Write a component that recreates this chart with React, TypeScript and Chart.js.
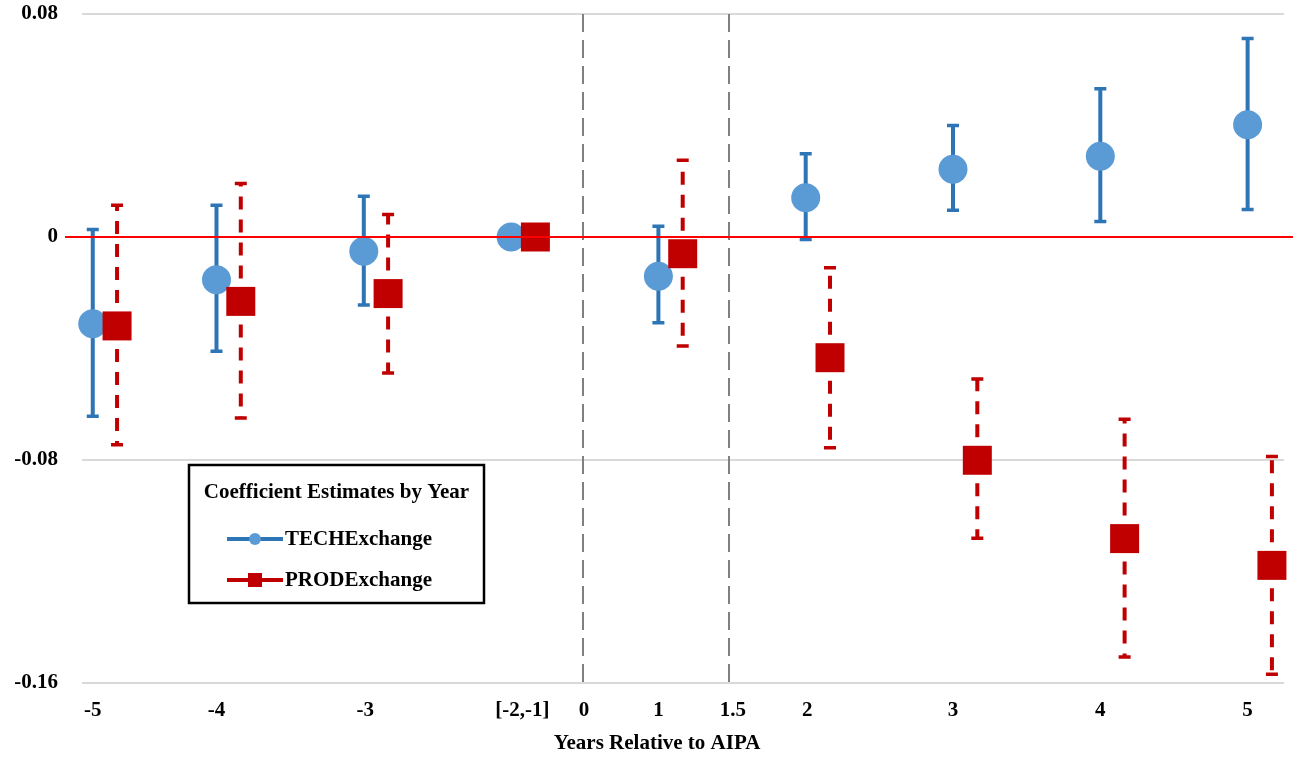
import React, { useEffect, useRef } from 'react';
import { Chart, registerables } from 'chart.js';

Chart.register(...registerables);

// ---- data ----
const categories = ['-5', '-4', '-3', '[-2,-1]', '1', '2', '3', '4', '5'];
const xPositions = [-2.84, -2, -1, 0, 1, 2, 3, 4, 5];
const prodOffset = 0.165;

const techEstimate = [-0.0311, -0.0153, -0.0051, 0, -0.0141, 0.0141, 0.0243, 0.029, 0.0403];
const techLower = [-0.0643, -0.041, -0.0244, null, -0.0308, -0.0009, 0.0096, 0.0056, 0.0099];
const techUpper = [0.0027, 0.0114, 0.0146, null, 0.0039, 0.0299, 0.04, 0.0532, 0.0712];

const prodEstimate = [-0.0319, -0.0231, -0.0203, 0, -0.006, -0.0433, -0.0801, -0.1082, -0.1178];
const prodLower = [-0.0745, -0.0649, -0.0488, null, -0.0391, -0.0756, -0.1081, -0.1507, -0.1569];
const prodUpper = [0.0114, 0.0192, 0.0081, null, 0.0275, -0.011, -0.0509, -0.0654, -0.0787];

const xTickValues = [-2.84, -2, -0.99, 0.077, 0.495, 1, 1.505, 2.01, 3, 4, 5];
const xTickLabels = ['-5', '-4', '-3', '[-2,-1]', '0', '1', '1.5', '2', '3', '4', '5'];
const yTickValues = [-0.16, -0.08, 0, 0.08];
const referenceLines = [0.49, 1.48];

const legendTitle = 'Coefficient Estimates by Year';
const xAxisTitle = 'Years Relative to AIPA';

const FONT = "'Liberation Serif', 'Times New Roman', serif";
const TECH_FILL = '#5B9BD5';
const TECH_BAR = '#2E75B6';
const PROD_COLOR = '#C00000';

const errorBarPlugin = {
  id: 'errorBars',
  beforeDatasetsDraw(chart: any) {
    const { ctx, chartArea } = chart;
    const x = chart.scales.x;
    const y = chart.scales.y;
    ctx.save();
    ctx.strokeStyle = '#808080';
    ctx.lineWidth = 2;
    ctx.setLineDash([18, 8]);
    referenceLines.forEach((v) => {
      const px = Math.round(x.getPixelForValue(v));
      ctx.beginPath();
      ctx.moveTo(px, chartArea.top);
      ctx.lineTo(px, chartArea.bottom);
      ctx.stroke();
    });
    ctx.restore();

    chart.data.datasets.forEach((ds: any) => {
      ctx.save();
      ctx.strokeStyle = ds.errColor;
      ds.data.forEach((p: any, i: number) => {
        const lo = ds.errLower[i];
        const hi = ds.errUpper[i];
        if (lo == null || hi == null) return;
        const px = x.getPixelForValue(p.x);
        const pc = y.getPixelForValue(p.y);
        const pl = y.getPixelForValue(lo);
        const ph = y.getPixelForValue(hi);
        ctx.lineWidth = 4;
        ctx.setLineDash(ds.errDash);
        ctx.beginPath();
        ctx.moveTo(px, pc);
        ctx.lineTo(px, ph);
        ctx.stroke();
        ctx.beginPath();
        ctx.moveTo(px, pc);
        ctx.lineTo(px, pl);
        ctx.stroke();
        ctx.setLineDash([]);
        ctx.lineWidth = 3.5;
        ctx.beginPath();
        ctx.moveTo(px - 6, ph);
        ctx.lineTo(px + 6, ph);
        ctx.moveTo(px - 6, pl);
        ctx.lineTo(px + 6, pl);
        ctx.stroke();
      });
      ctx.restore();
    });
  },
  afterDatasetsDraw(chart: any) {
    const { ctx, chartArea } = chart;
    const y = chart.scales.y;
    const py = y.getPixelForValue(0);
    ctx.save();
    ctx.strokeStyle = '#FF0000';
    ctx.lineWidth = 2;
    ctx.beginPath();
    ctx.moveTo(chartArea.left - 17, py);
    ctx.lineTo(chartArea.right + 9, py);
    ctx.stroke();
    ctx.restore();
  },
  afterDraw(chart: any) {
    const { ctx, chartArea } = chart;
    ctx.save();
    // x axis title
    ctx.fillStyle = '#000';
    ctx.font = `bold 21px ${FONT}`;
    ctx.textAlign = 'center';
    ctx.textBaseline = 'middle';
    ctx.fillText(xAxisTitle, chartArea.left + 575, 744);

    // legend box
    const bx = chartArea.left + 107;
    const by = chartArea.top + 451;
    const bw = 295;
    const bh = 138;
    ctx.fillStyle = '#FFFFFF';
    ctx.fillRect(bx, by, bw, bh);
    ctx.strokeStyle = '#000';
    ctx.lineWidth = 2.5;
    ctx.strokeRect(bx, by, bw, bh);

    ctx.fillStyle = '#000';
    ctx.font = `bold 21px ${FONT}`;
    ctx.textAlign = 'center';
    ctx.fillText(legendTitle, bx + bw / 2, by + 28);

    chart.data.datasets.forEach((ds: any, i: number) => {
      const ly = by + 74 + i * 41;
      const lx0 = bx + 38;
      const lx1 = bx + 94;
      ctx.strokeStyle = ds.errColor;
      ctx.lineWidth = 4;
      ctx.setLineDash([]);
      ctx.beginPath();
      ctx.moveTo(lx0, ly);
      ctx.lineTo(lx1, ly);
      ctx.stroke();
      ctx.fillStyle = ds.backgroundColor;
      const cx = (lx0 + lx1) / 2;
      if (ds.pointStyle === 'circle') {
        ctx.beginPath();
        ctx.arc(cx, ly, 6, 0, Math.PI * 2);
        ctx.fill();
      } else {
        ctx.fillRect(cx - 7, ly - 7, 14, 14);
      }
      ctx.fillStyle = '#000';
      ctx.font = `bold 21px ${FONT}`;
      ctx.textAlign = 'left';
      ctx.fillText(ds.label, lx1 + 2, ly + 1);
    });
    ctx.restore();
  },
};

export default function App() {
  const canvasRef = useRef<HTMLCanvasElement | null>(null);

  useEffect(() => {
    if (!canvasRef.current) return;
    const techData = xPositions.map((x, i) => ({ x, y: techEstimate[i] }));
    const prodData = xPositions.map((x, i) => ({ x: x + prodOffset, y: prodEstimate[i] }));

    const chart = new Chart(canvasRef.current, {
      type: 'scatter',
      data: {
        labels: categories,
        datasets: [
          {
            label: 'TECHExchange',
            data: techData,
            pointStyle: 'circle',
            pointRadius: 14.5,
            pointHoverRadius: 14.5,
            backgroundColor: TECH_FILL,
            borderWidth: 0,
            showLine: false,
            clip: false,
            order: 2,
            errLower: techLower,
            errUpper: techUpper,
            errColor: TECH_BAR,
            errDash: [],
          } as any,
          {
            label: 'PRODExchange',
            data: prodData,
            pointStyle: 'rect',
            pointRadius: 20.5,
            pointHoverRadius: 20.5,
            backgroundColor: PROD_COLOR,
            borderWidth: 0,
            showLine: false,
            clip: false,
            order: 1,
            errLower: prodLower,
            errUpper: prodUpper,
            errColor: PROD_COLOR,
            errDash: [13, 10],
          } as any,
        ],
      },
      options: {
        responsive: false,
        animation: false,
        events: [],
        layout: { autoPadding: false, padding: { left: 0, right: 14, top: 14, bottom: 0 } },
        plugins: {
          legend: { display: false },
          tooltip: { enabled: false },
        },
        scales: {
          x: {
            type: 'linear',
            min: -2.913,
            max: 5.247,
            grid: { display: false, drawTicks: false },
            border: { display: false },
            afterBuildTicks: (scale: any) => {
              scale.ticks = xTickValues.map((v) => ({ value: v }));
            },
            afterFit: (scale: any) => {
              scale.height = 74;
              scale.paddingLeft = 0;
              scale.paddingRight = 0;
            },
            ticks: {
              autoSkip: false,
              maxRotation: 0,
              padding: 15,
              color: '#000',
              font: { family: FONT, size: 21, weight: 'bold' },
              callback: (value: any) => {
                const idx = xTickValues.indexOf(Number(value));
                return idx >= 0 ? xTickLabels[idx] : '';
              },
            },
          },
          y: {
            type: 'linear',
            min: -0.16,
            max: 0.08,
            grid: { color: '#D9D9D9', lineWidth: 2, drawTicks: false },
            border: { display: false },
            afterBuildTicks: (scale: any) => {
              scale.ticks = yTickValues.map((v) => ({ value: v }));
            },
            afterFit: (scale: any) => {
              scale.width = 82;
              scale.paddingTop = 0;
              scale.paddingBottom = 0;
            },
            ticks: {
              padding: 24,
              color: '#000',
              font: { family: FONT, size: 21, weight: 'bold' },
              callback: (value: any) => (Number(value) === 0 ? '0' : Number(value).toFixed(2)),
            },
          },
        },
      },
      plugins: [errorBarPlugin],
    });
    return () => chart.destroy();
  }, []);

  return (
    <div style={{ position: 'fixed', left: 0, top: 0, width: 1298, height: 757, background: '#fff' }}>
      <canvas ref={canvasRef} width={1298} height={757} />
    </div>
  );
}
